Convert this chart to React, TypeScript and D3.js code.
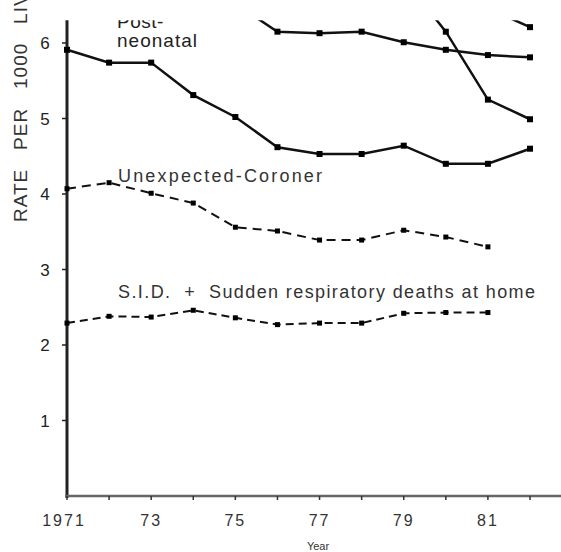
import * as d3 from 'd3';

// years on the x axis
const years = [1971, 1972, 1973, 1974, 1975, 1976, 1977, 1978, 1979, 1980, 1981, 1982];
const xLabelYears = [1971, 1973, 1975, 1977, 1979, 1981];
const xLabelText = ['1971', '73', '75', '77', '79', '81'];
const yTicks = [1, 2, 3, 4, 5, 6];

// solid lines
const neonatal = [5.91, 5.74, 5.74, 5.31, 5.02, 4.62, 4.53, 4.53, 4.64, 4.4, 4.4, 4.6];
const postNeonatalYears = [1975, 1976, 1977, 1978, 1979, 1980, 1981, 1982];
const postNeonatal = [6.52, 6.15, 6.13, 6.15, 6.01, 5.91, 5.84, 5.81];
const steepYears = [1979, 1980, 1981, 1982];
const steep = [6.85, 6.15, 5.25, 4.99];
const topYears = [1981, 1982];
const topLine = [6.46, 6.21];

// dashed lines
const coronerYears = [1971, 1972, 1973, 1974, 1975, 1976, 1977, 1978, 1979, 1980, 1981];
const coroner = [4.07, 4.15, 4.01, 3.88, 3.56, 3.51, 3.39, 3.39, 3.52, 3.43, 3.3];
const sidYears = coronerYears;
const sid = [2.29, 2.38, 2.37, 2.46, 2.36, 2.27, 2.29, 2.29, 2.42, 2.43, 2.43];

const W = 561;
const H = 552;

export default function App() {
  const x = d3.scaleLinear().domain([1971, 1982]).range([67, 530]);
  const y = d3.scaleLinear().domain([0, 6]).range([496, 43]);
  const yTop = y(6.3);
  const line = d3.line<[number, number]>().x(d => x(d[0])).y(d => y(d[1]));

  const series = [
    { ys: years, vs: neonatal, dash: null, size: 6 },
    { ys: postNeonatalYears, vs: postNeonatal, dash: null, size: 6 },
    { ys: steepYears, vs: steep, dash: null, size: 6 },
    { ys: topYears, vs: topLine, dash: null, size: 6 },
    { ys: coronerYears, vs: coroner, dash: '9,6', size: 5 },
    { ys: sidYears, vs: sid, dash: '8,5', size: 5 },
  ];

  const font = 'Arial, "Liberation Sans", Helvetica, sans-serif';

  return (
    <svg width={W} height={H} style={{ position: 'absolute', left: 0, top: 0, background: '#fff' }}
      fontFamily={font}>
      <defs>
        <clipPath id="plot">
          <rect x={0} y={yTop} width={W} height={y(0) - yTop + 2} />
        </clipPath>
      </defs>

      {/* y axis title, cut off at the top like the scan */}
      <text transform={`translate(27,222) rotate(-90)`} fontSize={19} fill="#333"
        letterSpacing={1} style={{ whiteSpace: 'pre' }}>
        {'RATE   PER   1000   LIVE BIRTHS'}
      </text>

      {/* y axis */}
      <line x1={67} x2={67} y1={yTop} y2={y(0) + 2} stroke="#222" strokeWidth={3} />
      {yTicks.map(t => (
        <g key={t}>
          <line x1={62} x2={67} y1={y(t)} y2={y(t)} stroke="#222" strokeWidth={1.5} />
          <text x={45} y={y(t)} dy="0.36em" textAnchor="middle" fontSize={17} fill="#222">{t}</text>
        </g>
      ))}

      {/* x axis */}
      <line x1={65} x2={W} y1={y(0)} y2={y(0)} stroke="#666" strokeWidth={2.5} />
      {years.map(t => (
        <line key={t} x1={x(t)} x2={x(t)} y1={y(0)} y2={y(0) + 4} stroke="#333" strokeWidth={1.5} />
      ))}
      {xLabelYears.map((t, i) => (
        <text key={t} x={x(t) - (i === 0 ? 3 : 0)} y={520} dy="0.36em" textAnchor="middle"
          fontSize={16} letterSpacing={2} fill="#333">{xLabelText[i]}</text>
      ))}
      <text x={318} y={546} dy="0.36em" textAnchor="middle" fontSize={11} fill="#333">Year</text>

      <g clipPath="url(#plot)">
        {series.map((s, i) => {
          const pts = s.ys.map((yr, j) => [yr, s.vs[j]] as [number, number]);
          return (
            <g key={i}>
              <path d={line(pts) || ''} fill="none" stroke="#111" strokeWidth={s.dash ? 2 : 2.5}
                strokeDasharray={s.dash || undefined} />
              {pts.map((p, j) => (
                <rect key={j} x={x(p[0]) - s.size / 2} y={y(p[1]) - s.size / 2}
                  width={s.size} height={s.size} fill="#000" />
              ))}
            </g>
          );
        })}
        <text x={117} y={28} fontSize={19} fill="#222" letterSpacing={0.5}>Post-</text>
      </g>

      {/* annotations */}
      <text x={117} y={47} fontSize={19} fill="#222" textLength={80} lengthAdjust="spacing">neonatal</text>
      <text x={118} y={182} fontSize={18} fill="#333" textLength={204} lengthAdjust="spacing">Unexpected-Coroner</text>
      <text x={118} y={298} fontSize={18} fill="#333" textLength={417} lengthAdjust="spacing"
        style={{ whiteSpace: 'pre' }}>{'S.I.D.  +  Sudden respiratory deaths at home'}</text>
    </svg>
  );
}
